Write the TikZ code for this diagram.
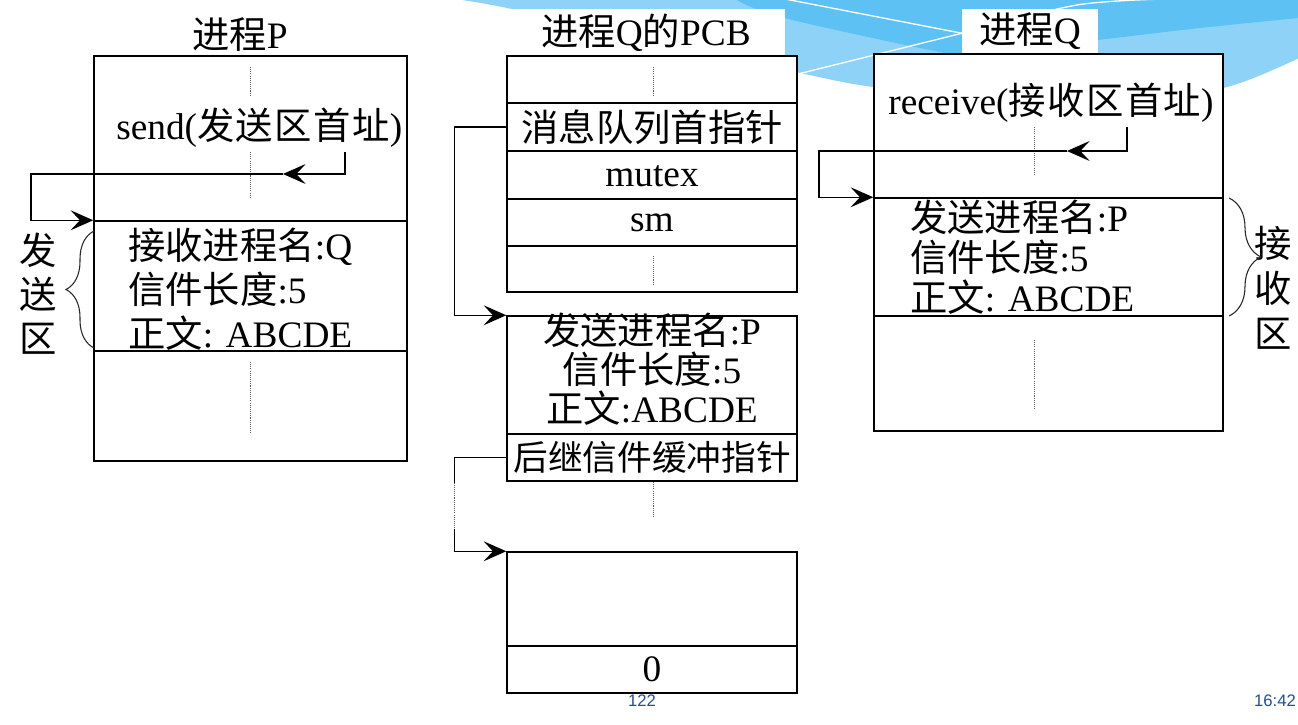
\documentclass[tikz,border=0pt]{standalone}
\usepackage{fontspec}
\setmainfont{Liberation Serif}
\newfontfamily\cjk{Noto Sans CJK SC}
\newfontfamily\cjkwide{Noto Sans CJK SC}[LetterSpace=4]
\newfontfamily\numfont{Liberation Sans}
\usetikzlibrary{arrows.meta,decorations.pathreplacing,fit}

\definecolor{swooshlight}{HTML}{8ED2F7}
\definecolor{swooshmid}{HTML}{5EC1F4}
\definecolor{pagenum}{HTML}{1F4E99}

\tikzset{
  cell/.style={draw=black, line width=1.1pt, fill=white, inner sep=0pt},
  link/.style={draw=black, line width=0.9pt, -{Stealth[length=17pt,width=15pt,inset=7pt]}},
  wire/.style={draw=black, line width=0.9pt},
  gap/.style={draw=gray!70!black, line width=0.6pt, dash pattern=on 0.8pt off 0.8pt},
  lbl/.style={inner sep=0pt, font=\fontsize{28}{33}\selectfont},
  title/.style={inner sep=0pt, font=\fontsize{28}{33}\selectfont},
  bracket/.style={draw=black!85, line width=0.8pt, decorate},
  stamp/.style={inner sep=0pt, text=pagenum, font=\numfont\fontsize{12.5}{14}\selectfont}
}

\begin{document}
\begin{tikzpicture}[x=0.75pt,y=-0.75pt]
\useasboundingbox (0,0) rectangle (1298,724);
\fill[white] (0,0) rectangle (1298,724);

% --- header swoosh ---
\fill[swooshlight] plot[smooth] coordinates {(455,-1) (507,8) (650,40) (800,73) (873,87) (1000,100) (1110,99) (1223,88) (1299,58)} -- (1299,-1) -- cycle;
\fill[swooshmid] plot[smooth] coordinates {(735,-1) (780,17) (930,50) (975,55) (1098,40) (1200,28) (1299,18)} -- (1299,-1) -- cycle;
\draw[white, line width=1pt] (785,-1) -- (1100,60);
\draw[white, line width=1pt] plot[smooth] coordinates {(790,76) (963,33) (1077,5) (1165,-1)};

% --- process P ---
\node[title] (tP) at (240,35) {{\cjk 进程}P};
\node[cell, fit={(94,56) (407,221)}] (pA) {};
\node[cell, fit={(94,221) (407,351)}] (pB) {};
\node[cell, fit={(94,351) (407,461)}] (pC) {};
\node[lbl, anchor=west] (sendt) at (116,128) {send({\cjkwide 发送区首址})};
\node[lbl, anchor=west, align=left, font=\fontsize{28}{33}\selectfont] (pBt) at (128,289)
  {{\cjk 接收进程名}:Q\\{\cjk 信件长度}:5\\{\cjk 正文}: ABCDE};
\draw[gap] (250,67) -- (250,95);
\draw[gap] (250,152) -- (250,198);
\draw[gap] (250,362) -- (250,433);
\node[lbl, align=center, font=\cjk\fontsize{28}{33}\selectfont] (sendzone) at (38,294) {发\\送\\区};
\draw[bracket, decoration={brace, amplitude=21pt}] (94,348) -- (94,231);

\coordinate (sendtail) at (345,152);
\coordinate (sendturn) at (283,174);
\coordinate (sendloop) at (31,174);
\draw[link] (sendtail) |- (sendturn);
\draw[link] (sendturn) -- (sendloop) |- (pB.north west);

% --- PCB of process Q ---
\node[title, fill=white, minimum width=208.5pt, minimum height=35.25pt] (tQpcb) at (646,32.5) {{\cjk 进程}Q{\cjk 的}PCB};
\node[cell, fit={(507,56) (797,103)}] (q0) {};
\node[cell, fit={(507,103) (797,151)}] (q1) {};
\node[cell, fit={(507,151) (797,199)}] (q2) {};
\node[cell, fit={(507,199) (797,246)}] (q3) {};
\node[cell, fit={(507,246) (797,292)}] (q4) {};
\node[lbl, font=\cjk\fontsize{28}{33}\selectfont] (q1t) at (652,127) {消息队列首指针};
\node[lbl] (q2t) at (652,176) {mutex};
\node[lbl] (q3t) at (652,223) {sm};
\draw[gap] (653,67) -- (653,96);
\draw[gap] (653,256) -- (653,285);

% --- message buffers ---
\node[cell, fit={(507,316) (797,434)}] (m1) {};
\node[cell, fit={(507,434) (797,481)}] (m1n) {};
\node[lbl, align=center, font=\fontsize{28}{29.3}\selectfont] (m1t) at (652,369)
  {{\cjk 发送进程名}:P\\{\cjk 信件长度}:5\\{\cjk 正文}:ABCDE};
\node[lbl, font=\cjk\fontsize{26}{30}\selectfont] (m1nt) at (652,457) {后继信件缓冲指针};
\draw[gap] (653,482) -- (653,518);
\node[cell, fit={(507,552) (797,646)}] (m2) {};
\node[cell, fit={(507,646) (797,693)}] (m2n) {};
\node[lbl] (m2nt) at (652,669) {0};

\draw[link] (q1.west) -- ++(-52,0) |- (m1.north west);
\draw[wire] (m1n.west) -- ++(-52,0) -- ++(0,25) coordinate (chainA);
\draw[gap] (chainA) -- ++(0,46) coordinate (chainB);
\draw[link] (chainB) |- (m2.north west);

% --- process Q ---
\node[title, fill=white, minimum width=102pt, minimum height=33pt] (tQ) at (1030,31) {{\cjk 进程}Q};
\node[cell, fit={(874,54) (1223,198)}] (qA) {};
\node[cell, fit={(874,198) (1223,316)}] (qB) {};
\node[cell, fit={(874,316) (1223,431)}] (qC) {};
\node[lbl] (recvt) at (1051,103) {receive({\cjkwide 接收区首址})};
\node[lbl, anchor=west, align=left, font=\fontsize{28}{30}\selectfont] (qBt) at (910,257.5)
  {{\cjk 发送进程名}:P\\{\cjk 信件长度}:5\\{\cjk 正文}: ABCDE};
\draw[gap] (1034,127) -- (1034,175);
\draw[gap] (1034,340) -- (1034,410);
\node[lbl, align=center, font=\cjk\fontsize{28}{33.7}\selectfont] (recvzone) at (1273,288) {接\\收\\区};
\draw[bracket, decoration={brace, amplitude=24pt}] (1229,198) -- (1229,316);

\coordinate (recvtail) at (1127,127);
\coordinate (recvturn) at (1067,151);
\coordinate (recvloop) at (819,151);
\draw[link] (recvtail) |- (recvturn);
\draw[link] (recvturn) -- (recvloop) |- (qB.north west);

% --- footer ---
\node[stamp] (pgno) at (642,701) {122};
\node[stamp] (clock) at (1275,701) {16:42};
\end{tikzpicture}
\end{document}
